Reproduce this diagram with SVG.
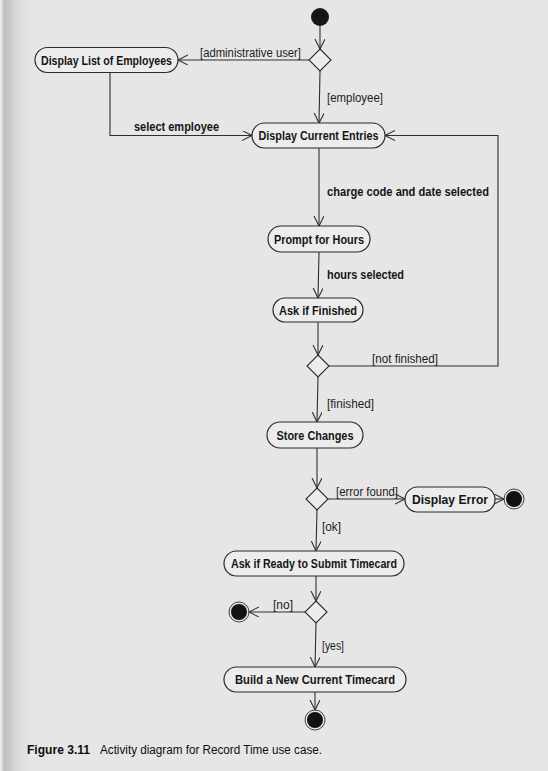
<svg xmlns="http://www.w3.org/2000/svg" width="548" height="771" viewBox="0 0 548 771">
  <defs>
    <linearGradient id="gutter" x1="0" y1="0" x2="1" y2="0">
      <stop offset="0" stop-color="#f2f2f2"/>
      <stop offset="0.15" stop-color="#bdbdbd"/>
      <stop offset="0.5" stop-color="#d6d6d6"/>
      <stop offset="1" stop-color="#e6e6e6"/>
    </linearGradient>
    <marker id="open" markerUnits="userSpaceOnUse" markerWidth="12" markerHeight="12" refX="10" refY="5" orient="auto">
      <path d="M0,0 L10,5 L0,10" fill="none" stroke="#2e2e2e" stroke-width="1.1"/>
    </marker>
    <style>
      .node rect { fill: #ececec; stroke: #2a2a2a; stroke-width: 1.2; }
      .node text { font-family: "Liberation Sans", Arial, sans-serif; font-weight: bold; font-size: 12.5px; fill: #151515; text-anchor: middle; }
      .edges line, .edges path { fill: none; stroke: #2e2e2e; stroke-width: 1.1; marker-end: url(#open); }
      .guard { font-family: "Liberation Sans", Arial, sans-serif; font-size: 12px; fill: #1c1c1c; }
      .event { font-family: "Liberation Sans", Arial, sans-serif; font-size: 12px; font-weight: bold; fill: #151515; }
      .decision { fill: #ececec; stroke: #2a2a2a; stroke-width: 1.1; }
      .start { fill: #161616; }
      .endring { fill: none; stroke: #444; stroke-width: 1; }
      .endcore { fill: #111; }
      .caption { font-family: "Liberation Sans", Arial, sans-serif; fill: #0d0d0d; }
    </style>
  </defs>

  <!-- page -->
  <rect x="0" y="0" width="548" height="771" fill="#e6e6e6"/>
  <rect x="0" y="0" width="30" height="771" fill="url(#gutter)"/>

  <!-- connectors -->
  <g id="connectors" class="edges">
    <line x1="320" y1="26" x2="320" y2="49"/>
    <line x1="309" y1="60" x2="178" y2="60"/>
    <line x1="320" y1="71" x2="319" y2="123"/>
    <path d="M110,72 V135.5 H252"/>
    <line x1="319" y1="148" x2="319" y2="226"/>
    <line x1="319" y1="252" x2="318" y2="298"/>
    <line x1="318" y1="322" x2="318" y2="355"/>
    <path d="M328,366 H498 V135.5 H385"/>
    <line x1="318" y1="377" x2="317" y2="422"/>
    <line x1="317" y1="448" x2="317" y2="488"/>
    <line x1="327" y1="499" x2="405" y2="499"/>
    <line x1="495" y1="499" x2="504" y2="499"/>
    <line x1="317" y1="510" x2="316" y2="551"/>
    <line x1="316" y1="576" x2="316" y2="601"/>
    <line x1="306" y1="612" x2="249" y2="612"/>
    <line x1="316" y1="623" x2="315" y2="667"/>
    <line x1="315" y1="692" x2="315" y2="710"/>
  </g>

  <!-- connector labels -->
  <g id="labels">
    <text class="guard" x="200" y="57" textLength="101" lengthAdjust="spacingAndGlyphs">[administrative user]</text>
    <text class="guard" x="327" y="102" textLength="56" lengthAdjust="spacingAndGlyphs">[employee]</text>
    <text class="event" x="134" y="131" textLength="85" lengthAdjust="spacingAndGlyphs">select employee</text>
    <text class="event" x="327" y="196" textLength="162" lengthAdjust="spacingAndGlyphs">charge code and date selected</text>
    <text class="event" x="327" y="279" textLength="77" lengthAdjust="spacingAndGlyphs">hours selected</text>
    <text class="guard" x="372" y="363" textLength="66" lengthAdjust="spacingAndGlyphs">[not finished]</text>
    <text class="guard" x="327" y="408" textLength="47" lengthAdjust="spacingAndGlyphs">[finished]</text>
    <text class="guard" x="336" y="496" textLength="62" lengthAdjust="spacingAndGlyphs">[error found]</text>
    <text class="guard" x="322" y="531" textLength="19" lengthAdjust="spacingAndGlyphs">[ok]</text>
    <text class="guard" x="273" y="609" textLength="20" lengthAdjust="spacingAndGlyphs">[no]</text>
    <text class="guard" x="322" y="650" textLength="22" lengthAdjust="spacingAndGlyphs">[yes]</text>
  </g>

  <!-- initial node -->
  <g id="start"><circle class="start" cx="320" cy="17" r="9"/></g>

  <!-- decisions -->
  <g id="d_user"><polygon class="decision" points="320,49 331,60 320,71 309,60"/></g>
  <g id="d_finished"><polygon class="decision" points="318,355 329,366 318,377 307,366"/></g>
  <g id="d_error"><polygon class="decision" points="317,488 328,499 317,510 306,499"/></g>
  <g id="d_submit"><polygon class="decision" points="316,601 327,612 316,623 305,612"/></g>

  <!-- activities -->
  <g id="display_list" class="node">
    <rect x="35" y="47.5" width="143" height="25" rx="12.5"/>
    <text x="106.5" y="64.5" textLength="131" lengthAdjust="spacingAndGlyphs">Display List of Employees</text>
  </g>
  <g id="display_entries" class="node">
    <rect x="252" y="123" width="133" height="25" rx="12.5"/>
    <text x="318.5" y="140" textLength="120" lengthAdjust="spacingAndGlyphs">Display Current Entries</text>
  </g>
  <g id="prompt_hours" class="node">
    <rect x="268" y="226" width="102" height="26" rx="13"/>
    <text x="319" y="243.5" textLength="90" lengthAdjust="spacingAndGlyphs">Prompt for Hours</text>
  </g>
  <g id="ask_finished" class="node">
    <rect x="273" y="298" width="90" height="24" rx="12"/>
    <text x="318" y="314.5" textLength="78" lengthAdjust="spacingAndGlyphs">Ask if Finished</text>
  </g>
  <g id="store_changes" class="node">
    <rect x="267" y="422" width="96" height="26" rx="13"/>
    <text x="315" y="439.5" textLength="77" lengthAdjust="spacingAndGlyphs">Store Changes</text>
  </g>
  <g id="display_error" class="node">
    <rect x="405" y="487" width="90" height="25" rx="12.5"/>
    <text x="450" y="504" textLength="76" lengthAdjust="spacingAndGlyphs">Display Error</text>
  </g>
  <g id="ask_submit" class="node">
    <rect x="224" y="551" width="180" height="25" rx="12.5"/>
    <text x="314" y="568" textLength="166" lengthAdjust="spacingAndGlyphs">Ask if Ready to Submit Timecard</text>
  </g>
  <g id="build_timecard" class="node">
    <rect x="224" y="667" width="182" height="25" rx="12.5"/>
    <text x="315" y="684" textLength="160" lengthAdjust="spacingAndGlyphs">Build a New Current Timecard</text>
  </g>

  <!-- final nodes -->
  <g id="end_error"><circle class="endring" cx="514" cy="499" r="10"/><circle class="endcore" cx="514" cy="499" r="8"/></g>
  <g id="end_no"><circle class="endring" cx="239" cy="612" r="10"/><circle class="endcore" cx="239" cy="612" r="8"/></g>
  <g id="end_build"><circle class="endring" cx="315" cy="720" r="10"/><circle class="endcore" cx="315" cy="720" r="8"/></g>

  <!-- caption -->
  <text class="caption" x="27" y="754" font-size="13" font-weight="bold" textLength="63" lengthAdjust="spacingAndGlyphs">Figure 3.11</text>
  <text class="caption" x="100" y="754" font-size="12.5" textLength="222" lengthAdjust="spacingAndGlyphs">Activity diagram for Record Time use case.</text>
</svg>
